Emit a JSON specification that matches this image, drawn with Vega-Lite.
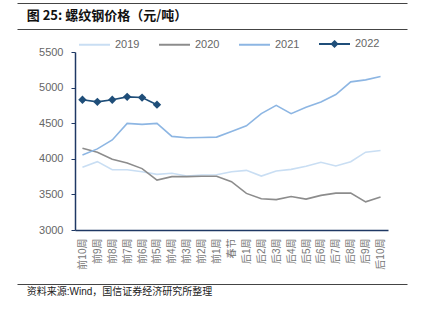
{
  "$schema": "https://vega.github.io/schema/vega-lite/v6.json",
  "autosize": "none",
  "width": 313,
  "height": 178,
  "padding": {"left": 75, "top": 52, "right": 34, "bottom": 91},
  "config": {
    "view": {"stroke": null},
    "font": "Liberation Sans, Noto Sans CJK SC"
  },
  "resolve": {
    "scale": {"x": "independent", "y": "independent"},
    "axis": {"x": "independent", "y": "independent"}
  },
  "layer": [
    {
      "data": {"values": [
        {"week": "前10周", "year": "2019", "price": 3881},
        {"week": "前9周", "year": "2019", "price": 3960},
        {"week": "前8周", "year": "2019", "price": 3847},
        {"week": "前7周", "year": "2019", "price": 3847},
        {"week": "前6周", "year": "2019", "price": 3819},
        {"week": "前5周", "year": "2019", "price": 3782},
        {"week": "前4周", "year": "2019", "price": 3796},
        {"week": "前3周", "year": "2019", "price": 3758},
        {"week": "前2周", "year": "2019", "price": 3772},
        {"week": "前1周", "year": "2019", "price": 3777},
        {"week": "春节", "year": "2019", "price": 3819},
        {"week": "后1周", "year": "2019", "price": 3838},
        {"week": "后2周", "year": "2019", "price": 3758},
        {"week": "后3周", "year": "2019", "price": 3829},
        {"week": "后4周", "year": "2019", "price": 3852},
        {"week": "后5周", "year": "2019", "price": 3895},
        {"week": "后6周", "year": "2019", "price": 3952},
        {"week": "后7周", "year": "2019", "price": 3899},
        {"week": "后8周", "year": "2019", "price": 3960},
        {"week": "后9周", "year": "2019", "price": 4093},
        {"week": "后10周", "year": "2019", "price": 4116},
        {"week": "前10周", "year": "2020", "price": 4149},
        {"week": "前9周", "year": "2020", "price": 4093},
        {"week": "前8周", "year": "2020", "price": 3994},
        {"week": "前7周", "year": "2020", "price": 3942},
        {"week": "前6周", "year": "2020", "price": 3862},
        {"week": "前5周", "year": "2020", "price": 3702},
        {"week": "前4周", "year": "2020", "price": 3749},
        {"week": "前3周", "year": "2020", "price": 3749},
        {"week": "前2周", "year": "2020", "price": 3754},
        {"week": "前1周", "year": "2020", "price": 3754},
        {"week": "春节", "year": "2020", "price": 3678},
        {"week": "后1周", "year": "2020", "price": 3514},
        {"week": "后2周", "year": "2020", "price": 3438},
        {"week": "后3周", "year": "2020", "price": 3427},
        {"week": "后4周", "year": "2020", "price": 3471},
        {"week": "后5周", "year": "2020", "price": 3434},
        {"week": "后6周", "year": "2020", "price": 3486},
        {"week": "后7周", "year": "2020", "price": 3518},
        {"week": "后8周", "year": "2020", "price": 3518},
        {"week": "后9周", "year": "2020", "price": 3395},
        {"week": "后10周", "year": "2020", "price": 3462},
        {"week": "前10周", "year": "2021", "price": 4055},
        {"week": "前9周", "year": "2021", "price": 4139},
        {"week": "前8周", "year": "2021", "price": 4265},
        {"week": "前7周", "year": "2021", "price": 4497},
        {"week": "前6周", "year": "2021", "price": 4483},
        {"week": "前5周", "year": "2021", "price": 4497},
        {"week": "前4周", "year": "2021", "price": 4315},
        {"week": "前3周", "year": "2021", "price": 4295},
        {"week": "前2周", "year": "2021", "price": 4300},
        {"week": "前1周", "year": "2021", "price": 4305},
        {"week": "春节", "year": "2021", "price": 4384},
        {"week": "后1周", "year": "2021", "price": 4464},
        {"week": "后2周", "year": "2021", "price": 4634},
        {"week": "后3周", "year": "2021", "price": 4751},
        {"week": "后4周", "year": "2021", "price": 4634},
        {"week": "后5周", "year": "2021", "price": 4723},
        {"week": "后6周", "year": "2021", "price": 4799},
        {"week": "后7周", "year": "2021", "price": 4902},
        {"week": "后8周", "year": "2021", "price": 5081},
        {"week": "后9周", "year": "2021", "price": 5109},
        {"week": "后10周", "year": "2021", "price": 5156},
        {"week": "前10周", "year": "2022", "price": 4830},
        {"week": "前9周", "year": "2022", "price": 4800},
        {"week": "前8周", "year": "2022", "price": 4830},
        {"week": "前7周", "year": "2022", "price": 4870},
        {"week": "前6周", "year": "2022", "price": 4860},
        {"week": "前5周", "year": "2022", "price": 4760}
      ]},
      "encoding": {
        "x": {
          "field": "week", "type": "nominal", "sort": null,
          "scale": {"padding": 0.5},
          "axis": {
            "orient": "bottom", "title": null, "labelAngle": -90, "labelAlign": "right", "labelBaseline": "middle",
            "labelFontSize": 10, "labelColor": "#777777", "labelPadding": 8, "ticks": false,
            "domainColor": "#1f3864", "domainWidth": 1.5, "grid": false
          }
        },
        "y": {
          "field": "price", "type": "quantitative",
          "scale": {"domain": [3000, 5500], "nice": false, "zero": false},
          "axis": {
            "orient": "left", "title": null, "values": [3000, 3500, 4000, 4500, 5000, 5500], "format": "d", "grid": false,
            "labelFontSize": 11, "labelColor": "#666666", "labelPadding": 8,
            "tickSize": 4, "tickColor": "#1f3864", "domainColor": "#1f3864", "domainWidth": 1.5
          }
        }
      },
      "layer": [
        {
          "mark": {"type": "line", "strokeWidth": 1.6},
          "encoding": {
            "color": {
              "field": "year", "type": "nominal",
              "scale": {"domain": ["2019", "2020", "2021", "2022"], "range": ["#c9def3", "#8c8c8c", "#8db6e3", "#1f4e79"]},
              "legend": {
                "title": null, "orient": "none", "direction": "horizontal", "legendX": 3, "legendY": -25,
                "padding": 0, "columnPadding": 15, "labelOffset": 4,
                "labelFontSize": 11, "labelColor": "#666666",
                "symbolType": "M-1,0H1", "symbolSize": 961, "symbolStrokeWidth": 2,
                "encode": {"symbols": {"update": {
                  "shape": {"signal": "datum.value === '2022' ? 'M-1,0H1M0,-0.17L0.17,0L0,0.17L-0.17,0Z' : 'M-1,0H1'"},
                  "fill": {"signal": "datum.value === '2022' ? '#1f4e79' : 'transparent'"}
                }}}
              }
            }
          }
        },
        {
          "transform": [{"filter": "datum.year === '2022'"}],
          "mark": {"type": "point", "shape": "diamond", "filled": true, "size": 70, "color": "#1f4e79", "opacity": 1}
        }
      ]
    },
    {
      "data": {"values": [{"title": "图 25:  螺纹钢价格（元/吨）", "source": "资料来源:Wind，国信证券经济研究所整理"}]},
      "layer": [
        {
          "mark": {"type": "text", "align": "left", "baseline": "middle", "fontSize": 13, "fontWeight": "bold", "font": "Noto Sans CJK SC", "color": "#111111", "clip": false},
          "encoding": {
            "x": {"datum": 0.025, "type": "quantitative", "scale": {"domain": [0, 1], "range": [-58, 332]}, "axis": null},
            "y": {"datum": 0.9537, "type": "quantitative", "scale": {"domain": [0, 1], "range": [232, -49]},
                  "axis": {"orient": "right", "offset": 19, "values": [1, 0.9075, 0], "labels": false, "domain": false, "grid": false,
                           "ticks": true, "tickSize": -390, "tickColor": "#444444", "tickWidth": 1.2, "title": null}},
            "text": {"field": "title", "type": "nominal"}
          }
        },
        {
          "mark": {"type": "text", "align": "left", "baseline": "middle", "fontSize": 10, "color": "#222222", "clip": false},
          "encoding": {
            "x": {"datum": 0.025, "type": "quantitative", "scale": {"domain": [0, 1], "range": [-58, 332]}, "axis": null},
            "y": {"datum": -0.03, "type": "quantitative", "scale": {"domain": [0, 1], "range": [232, -49]}},
            "text": {"field": "source", "type": "nominal"}
          }
        }
      ]
    }
  ]
}
